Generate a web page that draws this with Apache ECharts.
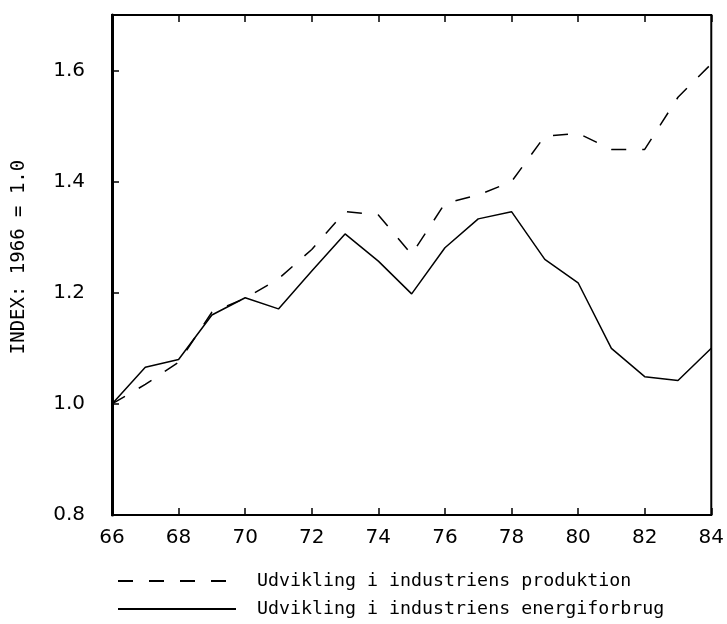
<!DOCTYPE html>
<html lang="da">
<head>
    <meta charset="UTF-8">
    <title>Industriens produktion og energiforbrug</title>
    <script src="https://cdn.jsdelivr.net/npm/echarts/dist/echarts.min.js"></script>
    <style>
        * { margin: 0; padding: 0; }
        body { background: #fff; }
        #chart { width: 727px; height: 624px; }
    </style>
</head>
<body>
    <div id="chart"></div>
    <script>
        // år (19xx)
        const years = [66, 67, 68, 69, 70, 71, 72, 73, 74, 75, 76, 77, 78, 79, 80, 81, 82, 83, 84];
        // index 1966 = 1.0
        const produktion = [1.0, 1.035, 1.075, 1.165, 1.19, 1.225, 1.278, 1.346, 1.34, 1.269, 1.361, 1.376, 1.40, 1.482, 1.487, 1.458, 1.458, 1.552, 1.612];
        const energiforbrug = [1.0, 1.066, 1.08, 1.16, 1.191, 1.171, 1.239, 1.306, 1.257, 1.198, 1.281, 1.333, 1.346, 1.26, 1.218, 1.10, 1.049, 1.042, 1.10];
        const yTicks = [0.8, 1.0, 1.2, 1.4, 1.6];
        const names = ['Udvikling i industriens produktion', 'Udvikling i industriens energiforbrug'];

        const pairs = vals => years.map((y, i) => [y, vals[i]]);
        const font = 'DejaVu Sans';
        const mono = 'DejaVu Sans Mono';

        const legendBox = (name, top) => ({
            orient: 'horizontal', left: 112, top: top, itemWidth: 118, itemHeight: 14,
            itemStyle: { opacity: 0 },
            textStyle: { color: '#000', fontFamily: mono, fontSize: 18.3, padding: [0, 0, 0, 16] },
            data: [name]
        });

        const chart = echarts.init(document.getElementById('chart'));
        chart.setOption({
            animation: false,
            grid: { left: 112, right: 15, top: 15, bottom: 109, show: true, borderColor: '#000', borderWidth: 2 },
            xAxis: [{
                type: 'value', min: 66, max: 84, interval: 2,
                axisLine: { show: false },
                axisTick: { inside: true, length: 7, lineStyle: { color: '#000', width: 1.5 } },
                axisLabel: { color: '#000', fontFamily: font, fontSize: 20, margin: 13 },
                splitLine: { show: false }
            }, {
                type: 'value', position: 'top', min: 66, max: 84, interval: 2,
                axisLine: { show: false },
                axisTick: { inside: true, length: 7, lineStyle: { color: '#000', width: 1.5 } },
                axisLabel: { show: false },
                splitLine: { show: false }
            }],
            yAxis: {
                type: 'value', min: 0.8, max: 1.7, interval: 0.2,
                name: 'INDEX: 1966 = 1.0', nameLocation: 'middle', nameRotate: 90, nameGap: 83,
                nameTextStyle: { color: '#000', fontFamily: mono, fontSize: 19, padding: [0, 0, 0, 16] },
                axisLine: { show: true, lineStyle: { color: '#000', width: 3 } },
                axisTick: { inside: true, length: 7, lineStyle: { color: '#000', width: 1.5 } },
                axisLabel: {
                    color: '#000', fontFamily: font, fontSize: 20, margin: 27, showMaxLabel: false,
                    formatter: v => yTicks.some(t => Math.abs(t - v) < 1e-6) ? v.toFixed(1) : ''
                },
                splitLine: { show: false }
            },
            legend: [legendBox(names[0], 567), legendBox(names[1], 595)],
            series: [{
                name: names[0],
                type: 'line', symbol: 'none', data: pairs(produktion),
                itemStyle: { color: '#000' },
                lineStyle: { color: '#000', width: 1.5, type: [15, 16] }
            }, {
                name: names[1],
                type: 'line', symbol: 'none', data: pairs(energiforbrug),
                itemStyle: { color: '#000' },
                lineStyle: { color: '#000', width: 1.5 }
            }]
        });
    </script>
</body>
</html>
